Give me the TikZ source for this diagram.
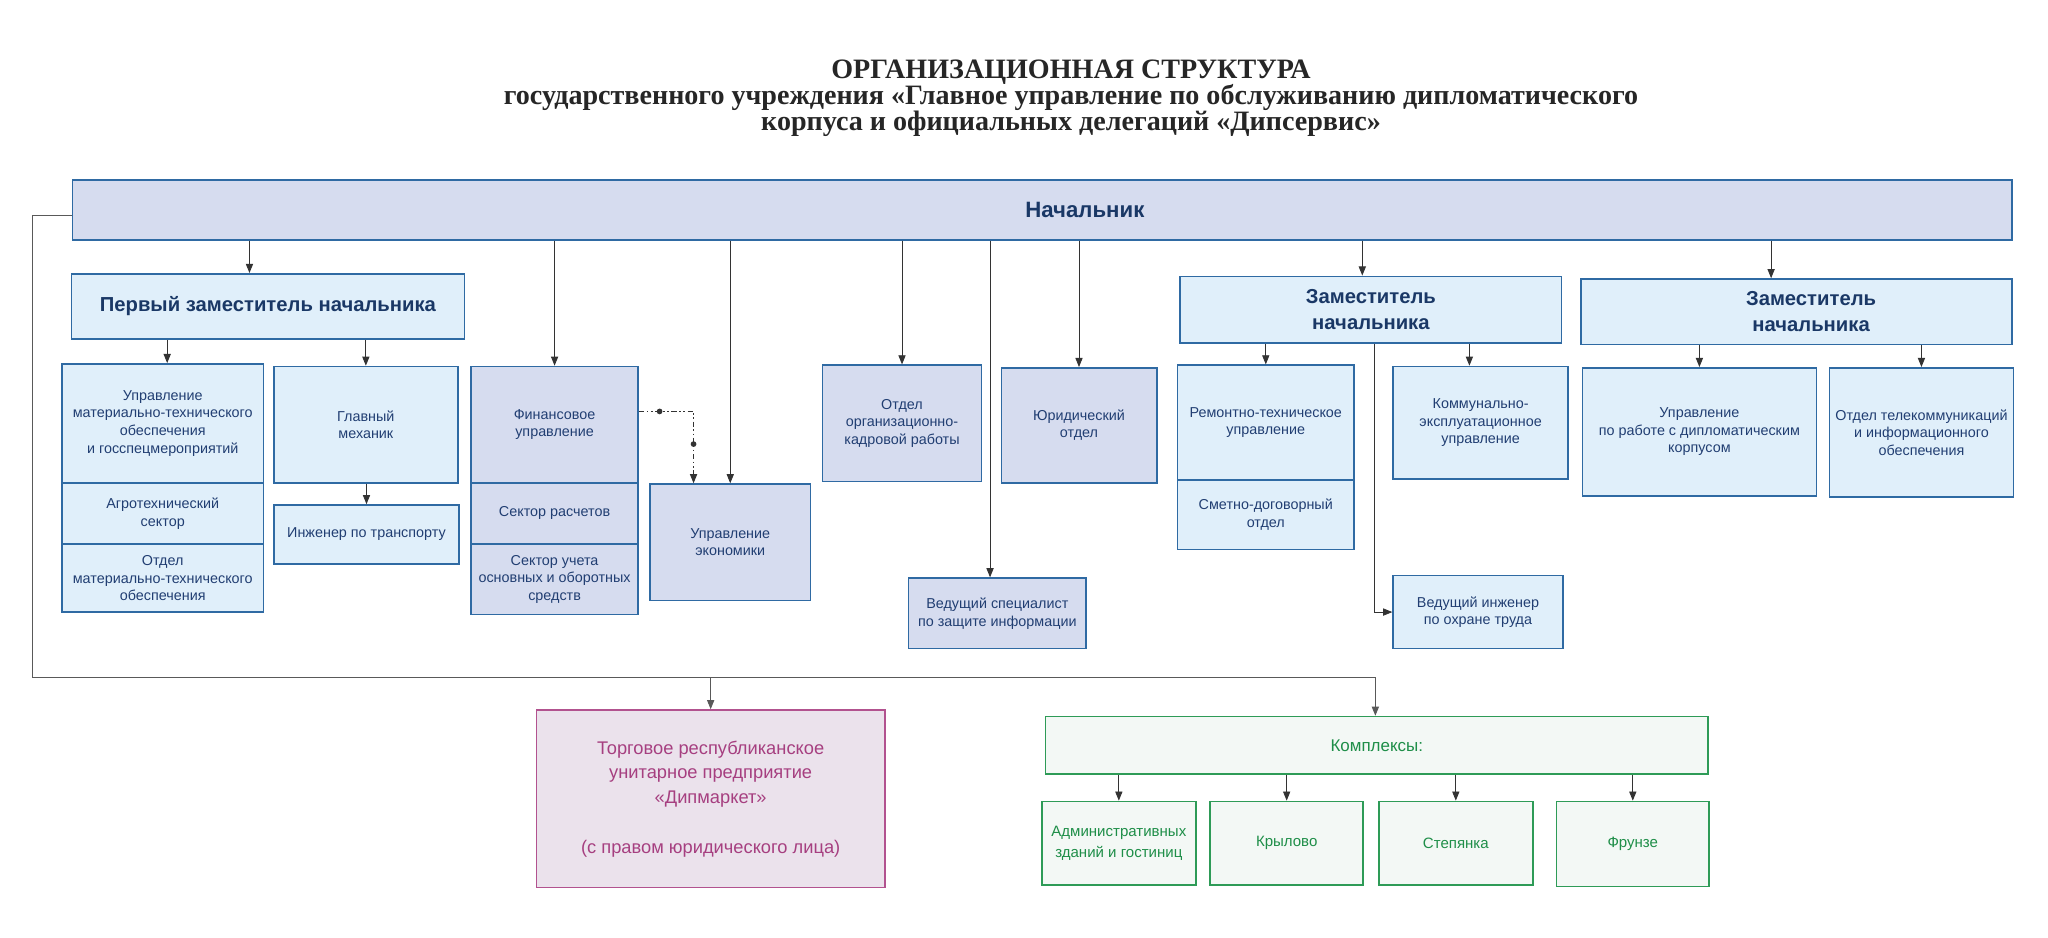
\documentclass[tikz,border=0pt]{standalone}
\usepackage{fontspec}
\setmainfont{Liberation Sans}
\newfontfamily\titlefont{Liberation Serif}
\usetikzlibrary{arrows.meta}

\definecolor{edge}{HTML}{2F6AA3}
\definecolor{pale}{HTML}{E0EFFA}
\definecolor{lav}{HTML}{D6DCEF}
\definecolor{ink}{HTML}{213E72}
\definecolor{navy}{HTML}{1A3866}
\definecolor{wire}{HTML}{333333}
\definecolor{plum}{HTML}{B2528F}
\definecolor{plumfill}{HTML}{EBE2EC}
\definecolor{plumtext}{HTML}{A63F80}
\definecolor{leaf}{HTML}{2E9B57}
\definecolor{leaffill}{HTML}{F3F8F5}
\definecolor{leaftext}{HTML}{1E8E48}

\begin{document}
\begin{tikzpicture}[x=1pt,y=-1pt,
    box/.style={draw=edge, line width=1.2pt, fill=pale, text=ink, align=center, inner sep=0pt, anchor=north west, font=\fontsize{11}{13.5}\selectfont},
    dark/.style={box, fill=lav},
    head/.style={box, text=navy, font=\bfseries\fontsize{15.5}{20}\selectfont},
    shop/.style={box, draw=plum, fill=plumfill, text=plumtext, font=\fontsize{14}{19}\selectfont},
    site/.style={box, draw=leaf, fill=leaffill, text=leaftext, font=\fontsize{11.5}{16}\selectfont},
    arr/.style={draw=wire, line width=0.7pt, -{Triangle[length=7pt,width=5.5pt]}}]
    \path[fill=white, use as bounding box] (0,0) rectangle (1568,717.5);

    \node[font=\titlefont\bfseries\fontsize{21.5}{20}\selectfont, text=black!85, align=center] (title) at (820,75)
      {ОРГАНИЗАЦИОННАЯ СТРУКТУРА\\
       государственного учреждения «Главное управление по обслуживанию дипломатического\\
       корпуса и официальных делегаций «Дипсервис»};

    \node[box, fill=lav, minimum width=1485pt, minimum height=46pt, text=navy, font=\bfseries\fontsize{17}{20}\selectfont] (nach) at (55,137) {\hspace*{65pt}Начальник};

    \node[head, minimum width=301pt, minimum height=50pt] (pz) at (54,209) {Первый заместитель начальника};
    \node[box, minimum width=154pt, minimum height=91pt] (umto) at (47,278) {Управление\\материально-технического\\обеспечения\\и госспецмероприятий};
    \node[box, minimum width=154pt, minimum height=47pt] (agro) at (47,369) {Агротехнический\\сектор};
    \node[box, minimum width=154pt, minimum height=52pt] (omto) at (47,416) {Отдел\\материально-технического\\обеспечения};
    \node[box, minimum width=141pt, minimum height=89pt] (mech) at (209,280) {Главный\\механик};
    \node[box, minimum width=142pt, minimum height=45pt] (ing) at (209,386) {Инженер по транспорту};

    \node[dark, minimum width=128pt, minimum height=89pt] (fin) at (360,280) {Финансовое\\управление};
    \node[dark, minimum width=128pt, minimum height=47pt] (rasch) at (360,369) {Сектор расчетов};
    \node[dark, minimum width=128pt, minimum height=54pt] (uchet) at (360,416) {Сектор учета\\основных и оборотных\\средств};
    \node[dark, minimum width=123pt, minimum height=89pt] (econ) at (497,370) {Управление\\экономики};
    \node[dark, minimum width=122pt, minimum height=89pt] (kadr) at (629,279) {Отдел\\организационно-\\кадровой работы};
    \node[dark, minimum width=119pt, minimum height=88pt] (jur) at (766,281) {Юридический\\отдел};
    \node[dark, minimum width=136pt, minimum height=54pt] (zi) at (695,442) {Ведущий специалист\\по защите информации};

    \node[head, minimum width=292pt, minimum height=51pt] (zam) at (903,211) {Заместитель\\начальника};
    \node[box, minimum width=135pt, minimum height=88pt] (remont) at (901,279) {Ремонтно-техническое\\управление};
    \node[box, minimum width=135pt, minimum height=53pt] (smet) at (901,367) {Сметно-договорный\\отдел};
    \node[box, minimum width=134pt, minimum height=86pt] (komm) at (1066,280) {Коммунально-\\эксплуатационное\\управление};
    \node[box, minimum width=130pt, minimum height=56pt] (ot) at (1066,440) {Ведущий инженер\\по охране труда};

    \node[head, minimum width=330pt, minimum height=50pt] (zamb) at (1210,213) {\hspace*{22pt}Заместитель\\\hspace*{22pt}начальника};
    \node[box, minimum width=179pt, minimum height=98pt] (dipl) at (1211,281) {Управление\\по работе с дипломатическим\\корпусом};
    \node[box, minimum width=141pt, minimum height=99pt] (tel) at (1400,281) {Отдел телекоммуникаций\\и информационного\\обеспечения};

    \node[shop, minimum width=267pt, minimum height=136pt] (market) at (410,543) {Торговое республиканское\\унитарное предприятие\\«Дипмаркет»\\[19pt](с правом юридического лица)};
    \node[site, minimum width=507pt, minimum height=44pt, font=\fontsize{13}{16}\selectfont] (kompl) at (800,548) {Комплексы:};
    \node[site, minimum width=118pt, minimum height=64pt] (adm) at (797,613) {Административных\\зданий и гостиниц};
    \node[site, minimum width=117pt, minimum height=64pt] (kryl) at (926,613) {Крылово};
    \node[site, minimum width=118pt, minimum height=64pt] (step) at (1055,613) {Степянка};
    \node[site, minimum width=117pt, minimum height=65pt] (frun) at (1191,613) {Фрунзе};

    \draw[arr] (nach.south -| 191,0) -- (pz.north -| 191,0);
    \draw[arr] (fin.north |- nach.south) -- (fin.north);
    \draw[arr] (econ.north |- nach.south) -- (econ.north);
    \draw[arr] (kadr.north |- nach.south) -- (kadr.north);
    \draw[arr] (nach.south -| 758,0) -- (zi.north -| 758,0);
    \draw[arr] (jur.north |- nach.south) -- (jur.north);
    \draw[arr] (nach.south -| 1043,0) -- (zam.north -| 1043,0);
    \draw[arr] (nach.south -| 1356,0) -- (zamb.north -| 1356,0);

    \draw[arr] (pz.south -| 128,0) -- (umto.north -| 128,0);
    \draw[arr] (mech.north |- pz.south) -- (mech.north);
    \draw[arr] (ing.north |- mech.south) -- (ing.north);

    \draw[arr, dash pattern=on 4pt off 2pt on 1.2pt off 2pt on 1.2pt off 2pt] (fin.east |- 0,315) -- (531,315) -- (econ.north -| 531,0);
    \fill[wire] (505,315) circle (2.2pt) (531,340) circle (2.2pt);

    \draw[arr] (remont.north |- zam.south) -- (remont.north);
    \draw[arr] (zam.south -| 1125,0) -- (komm.north -| 1125,0);
    \draw[arr, line width=0.6pt] (zam.south -| 1052,0) |- (ot.west);

    \draw[arr] (dipl.north |- zamb.south) -- (dipl.north);
    \draw[arr] (tel.north |- zamb.south) -- (tel.north);

    \draw[arr, draw=black!65] (nach.west |- 0,165) -| (25,519) -| (kompl.north -| 1053,0);
    \draw[arr, draw=black!65] (market.north |- 0,519) -- (market.north);

    \draw[arr] (adm.north |- kompl.south) -- (adm.north);
    \draw[arr] (kryl.north |- kompl.south) -- (kryl.north);
    \draw[arr] (step.north |- kompl.south) -- (step.north);
    \draw[arr] (frun.north |- kompl.south) -- (frun.north);
\end{tikzpicture}
\end{document}
